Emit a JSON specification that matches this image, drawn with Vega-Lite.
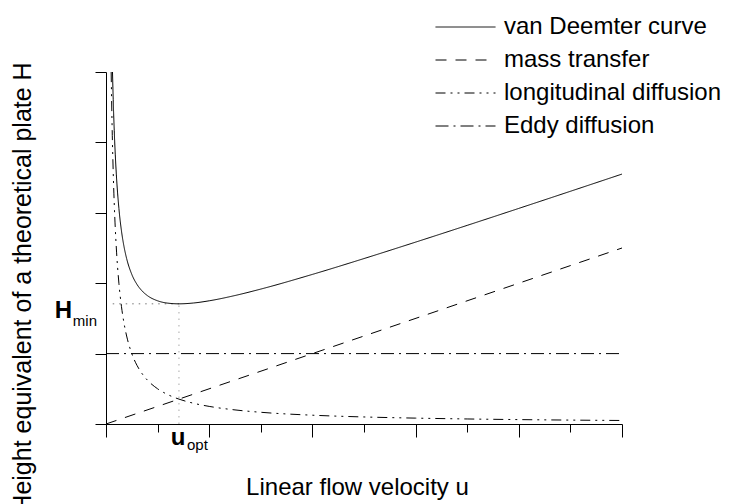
{
  "$schema": "https://vega.github.io/schema/vega-lite/v6.json",
  "width": 516,
  "height": 352,
  "autosize": {"type": "none"},
  "padding": {"left": 106, "top": 72, "right": 107, "bottom": 80},
  "background": "white",
  "config": {"view": {"stroke": null}, "font": "Liberation Sans"},
  "datasets": {
    "curves": [
      {"series": "van Deemter curve", "u": 0.126, "H": 10.0},
      {"series": "van Deemter curve", "u": 0.14, "H": 9.213},
      {"series": "van Deemter curve", "u": 0.16, "H": 8.33},
      {"series": "van Deemter curve", "u": 0.18, "H": 7.646},
      {"series": "van Deemter curve", "u": 0.2, "H": 7.1},
      {"series": "van Deemter curve", "u": 0.25, "H": 6.125},
      {"series": "van Deemter curve", "u": 0.3, "H": 5.483},
      {"series": "van Deemter curve", "u": 0.35, "H": 5.032},
      {"series": "van Deemter curve", "u": 0.4, "H": 4.7},
      {"series": "van Deemter curve", "u": 0.5, "H": 4.25},
      {"series": "van Deemter curve", "u": 0.6, "H": 3.967},
      {"series": "van Deemter curve", "u": 0.7, "H": 3.779},
      {"series": "van Deemter curve", "u": 0.8, "H": 3.65},
      {"series": "van Deemter curve", "u": 1.0, "H": 3.5},
      {"series": "van Deemter curve", "u": 1.2, "H": 3.433},
      {"series": "van Deemter curve", "u": 1.414, "H": 3.414},
      {"series": "van Deemter curve", "u": 1.7, "H": 3.438},
      {"series": "van Deemter curve", "u": 2.0, "H": 3.5},
      {"series": "van Deemter curve", "u": 2.5, "H": 3.65},
      {"series": "van Deemter curve", "u": 3.0, "H": 3.833},
      {"series": "van Deemter curve", "u": 4.0, "H": 4.25},
      {"series": "van Deemter curve", "u": 5.0, "H": 4.7},
      {"series": "van Deemter curve", "u": 6.0, "H": 5.167},
      {"series": "van Deemter curve", "u": 7.0, "H": 5.643},
      {"series": "van Deemter curve", "u": 8.0, "H": 6.125},
      {"series": "van Deemter curve", "u": 9.0, "H": 6.611},
      {"series": "van Deemter curve", "u": 10.0, "H": 7.1},
      {"series": "mass transfer", "u": 0, "H": 0},
      {"series": "mass transfer", "u": 10, "H": 5},
      {"series": "longitudinal diffusion", "u": 0.1, "H": 10.0},
      {"series": "longitudinal diffusion", "u": 0.12, "H": 8.333},
      {"series": "longitudinal diffusion", "u": 0.14, "H": 7.143},
      {"series": "longitudinal diffusion", "u": 0.16, "H": 6.25},
      {"series": "longitudinal diffusion", "u": 0.18, "H": 5.556},
      {"series": "longitudinal diffusion", "u": 0.2, "H": 5.0},
      {"series": "longitudinal diffusion", "u": 0.25, "H": 4.0},
      {"series": "longitudinal diffusion", "u": 0.3, "H": 3.333},
      {"series": "longitudinal diffusion", "u": 0.35, "H": 2.857},
      {"series": "longitudinal diffusion", "u": 0.4, "H": 2.5},
      {"series": "longitudinal diffusion", "u": 0.5, "H": 2.0},
      {"series": "longitudinal diffusion", "u": 0.6, "H": 1.667},
      {"series": "longitudinal diffusion", "u": 0.7, "H": 1.429},
      {"series": "longitudinal diffusion", "u": 0.8, "H": 1.25},
      {"series": "longitudinal diffusion", "u": 1.0, "H": 1.0},
      {"series": "longitudinal diffusion", "u": 1.2, "H": 0.833},
      {"series": "longitudinal diffusion", "u": 1.414, "H": 0.707},
      {"series": "longitudinal diffusion", "u": 1.7, "H": 0.588},
      {"series": "longitudinal diffusion", "u": 2.0, "H": 0.5},
      {"series": "longitudinal diffusion", "u": 2.5, "H": 0.4},
      {"series": "longitudinal diffusion", "u": 3.0, "H": 0.333},
      {"series": "longitudinal diffusion", "u": 4.0, "H": 0.25},
      {"series": "longitudinal diffusion", "u": 5.0, "H": 0.2},
      {"series": "longitudinal diffusion", "u": 6.0, "H": 0.167},
      {"series": "longitudinal diffusion", "u": 7.0, "H": 0.143},
      {"series": "longitudinal diffusion", "u": 8.0, "H": 0.125},
      {"series": "longitudinal diffusion", "u": 9.0, "H": 0.111},
      {"series": "longitudinal diffusion", "u": 10.0, "H": 0.1},
      {"series": "Eddy diffusion", "u": 0, "H": 2},
      {"series": "Eddy diffusion", "u": 10, "H": 2}
    ],
    "hguide": [{"u": 0.13, "H": 3.414}, {"u": 1.414, "H": 3.414}],
    "vguide": [{"u": 1.414, "H": 0}, {"u": 1.414, "H": 3.414}],
    "hmin": [{"u": 0, "H": 3.414}],
    "uopt": [{"u": 1.414, "H": 0}]
  },
  "layer": [
    {
      "data": {"name": "hguide"},
      "mark": {"type": "line", "stroke": "#777777", "strokeWidth": 1, "strokeDash": [1.5, 5]},
      "encoding": {
        "x": {"field": "u", "type": "quantitative", "scale": {"domain": [0, 10], "nice": false},
          "axis": {
            "title": "Linear flow velocity u",
            "values": [0, 1, 2, 3, 4, 5, 6, 7, 8, 9, 10],
            "labels": false,
            "grid": false,
            "domainColor": "black",
            "tickColor": "black",
            "domainWidth": 1,
            "tickWidth": 1,
            "tickSize": {"condition": {"test": "datum.value % 2 === 0", "value": 13}, "value": 8},
            "titleFont": "Liberation Sans",
            "titleFontSize": 24,
            "titleFontWeight": "normal",
            "titleColor": "black",
            "titleX": 251,
            "titleY": 70,
            "titleBaseline": "alphabetic",
            "titleAlign": "center"
          }
        },
        "y": {"field": "H", "type": "quantitative", "scale": {"domain": [0, 10], "nice": false},
          "axis": {
            "title": "Height equivalent of a theoretical plate H",
            "values": [0, 1, 2, 3, 4, 5, 6, 7, 8, 9, 10],
            "labels": false,
            "grid": false,
            "domainColor": "black",
            "tickColor": "black",
            "domainWidth": 1,
            "tickWidth": 1,
            "tickSize": {"condition": {"test": "datum.value % 2 === 0", "value": 11}, "value": 6},
            "titleFont": "Liberation Sans",
            "titleFontSize": 25,
            "titleFontWeight": "normal",
            "titleColor": "black",
            "titleAngle": -90,
            "titleX": -76,
            "titleY": 215,
            "titleBaseline": "alphabetic",
            "titleAlign": "center"
          }
        }
      }
    },
    {
      "data": {"name": "vguide"},
      "mark": {"type": "line", "stroke": "#aaaaaa", "strokeWidth": 1, "strokeDash": [1.5, 5]},
      "encoding": {
        "x": {"field": "u", "type": "quantitative"},
        "y": {"field": "H", "type": "quantitative"}
      }
    },
    {
      "data": {"name": "curves"},
      "mark": {"type": "line", "stroke": "black", "strokeWidth": 1, "interpolate": "monotone"},
      "encoding": {
        "x": {"field": "u", "type": "quantitative"},
        "y": {"field": "H", "type": "quantitative"},
        "strokeDash": {
          "field": "series",
          "type": "nominal",
          "scale": {
            "domain": ["van Deemter curve", "mass transfer", "longitudinal diffusion", "Eddy diffusion"],
            "range": [[1, 0], [11, 9], [10, 5, 2, 5, 2, 5], [13, 5, 2, 5]]
          },
          "legend": {
            "title": null,
            "orient": "none",
            "legendX": 329,
            "legendY": -57,
            "symbolType": "stroke",
            "symbolSize": 3600,
            "symbolStrokeColor": "black",
            "symbolStrokeWidth": 1,
            "clipHeight": 24,
            "rowPadding": 9,
            "padding": 0,
            "labelFont": "Liberation Sans",
            "labelFontSize": 24,
            "labelColor": "black",
            "labelOffset": 8,
            "labelLimit": 400
          }
        }
      }
    },
    {
      "data": {"name": "hmin"},
      "mark": {"type": "text", "text": "H", "font": "Liberation Sans", "fontWeight": "bold", "fontSize": 24, "align": "right", "baseline": "alphabetic", "dx": -34, "dy": 14, "color": "black"},
      "encoding": {
        "x": {"field": "u", "type": "quantitative"},
        "y": {"field": "H", "type": "quantitative"}
      }
    },
    {
      "data": {"name": "hmin"},
      "mark": {"type": "text", "text": "min", "font": "Liberation Sans", "fontSize": 15, "align": "right", "baseline": "alphabetic", "dx": -9, "dy": 22, "color": "black"},
      "encoding": {
        "x": {"field": "u", "type": "quantitative"},
        "y": {"field": "H", "type": "quantitative"}
      }
    },
    {
      "data": {"name": "uopt"},
      "mark": {"type": "text", "text": "u", "font": "Liberation Sans", "fontWeight": "bold", "fontSize": 24, "align": "center", "baseline": "alphabetic", "dx": -1, "dy": 21, "color": "black"},
      "encoding": {
        "x": {"field": "u", "type": "quantitative"},
        "y": {"field": "H", "type": "quantitative"}
      }
    },
    {
      "data": {"name": "uopt"},
      "mark": {"type": "text", "text": "opt", "font": "Liberation Sans", "fontSize": 15, "align": "left", "baseline": "alphabetic", "dx": 8, "dy": 26, "color": "black"},
      "encoding": {
        "x": {"field": "u", "type": "quantitative"},
        "y": {"field": "H", "type": "quantitative"}
      }
    }
  ]
}
